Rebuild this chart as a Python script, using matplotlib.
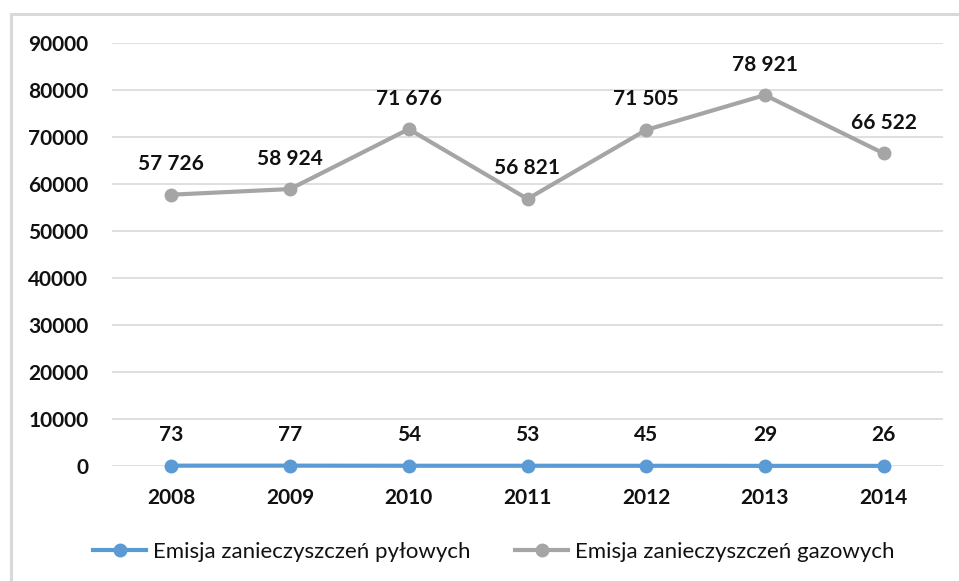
import matplotlib.pyplot as plt
from matplotlib.patches import Rectangle

# Lata i wartości emisji
lata = ['2008', '2009', '2010', '2011', '2012', '2013', '2014']
pylowe = [73, 77, 54, 53, 45, 29, 26]
gazowe = [57726, 58924, 71676, 56821, 71505, 78921, 66522]
y_ticks = [0, 10000, 20000, 30000, 40000, 50000, 60000, 70000, 80000, 90000]

niebieski = '#5B9BD5'
szary = '#A5A5A5'

plt.rcParams['font.family'] = ['Lato', 'DejaVu Sans']


def fmt(v):
    return f'{v:,}'.replace(',', ' ')


fig = plt.figure(figsize=(9.59, 5.81), dpi=100)
# ramka wykresu (widoczna tylko z lewej i u góry)
fig.patches.append(Rectangle((11 / 959, -0.1), 1.1, 1 - 14 / 581 + 0.1,
                             transform=fig.transFigure, fill=False,
                             edgecolor='#D9D9D9', linewidth=2.2))
ax = fig.add_axes([112 / 959, 1 - 466 / 581, (943 - 112) / 959, (466 - 43) / 581])

x = range(len(lata))
ax.plot(x, gazowe, color=szary, linewidth=3, marker='o', markersize=9,
        label='Emisja zanieczyszczeń gazowych', zorder=3, clip_on=False)
ax.plot(x, pylowe, color=niebieski, linewidth=3, marker='o', markersize=9,
        label='Emisja zanieczyszczeń pyłowych', zorder=4, clip_on=False)

for i in x:
    ax.annotate(fmt(pylowe[i]), (i, pylowe[i]), xytext=(0, 22), textcoords='offset points',
                ha='center', va='center', fontsize=15, fontweight='bold', color='#111111')
    ax.annotate(fmt(gazowe[i]), (i, gazowe[i]), xytext=(0, 22), textcoords='offset points',
                ha='center', va='center', fontsize=15, fontweight='bold', color='#111111')

ax.set_xlim(-0.5, len(lata) - 0.5)
ax.set_ylim(0, 90000)
ax.set_xticks(list(x))
ax.set_xticklabels(lata)
ax.set_yticks(y_ticks)
ax.set_yticklabels([str(v) for v in y_ticks])
ax.tick_params(axis='both', length=0, labelsize=15, labelcolor='#111111')
ax.tick_params(axis='x', pad=16)
ax.tick_params(axis='y', pad=17)
for lab in ax.get_xticklabels() + ax.get_yticklabels():
    lab.set_fontweight('bold')

ax.grid(axis='y', color='#D9D9D9', linewidth=1.2)
ax.set_axisbelow(True)
for s in ax.spines.values():
    s.set_visible(False)

# legenda: najpierw pyłowe, potem gazowe
h, l = ax.get_legend_handles_labels()
fig.legend(h[::-1], l[::-1], loc='center', bbox_to_anchor=(0.515, 1 - 552 / 581), ncol=2,
           frameon=False, fontsize=16, handlelength=2.4, handletextpad=0.3,
           columnspacing=2.0, labelcolor='#111111')

plt.savefig('out.png', dpi=100)
